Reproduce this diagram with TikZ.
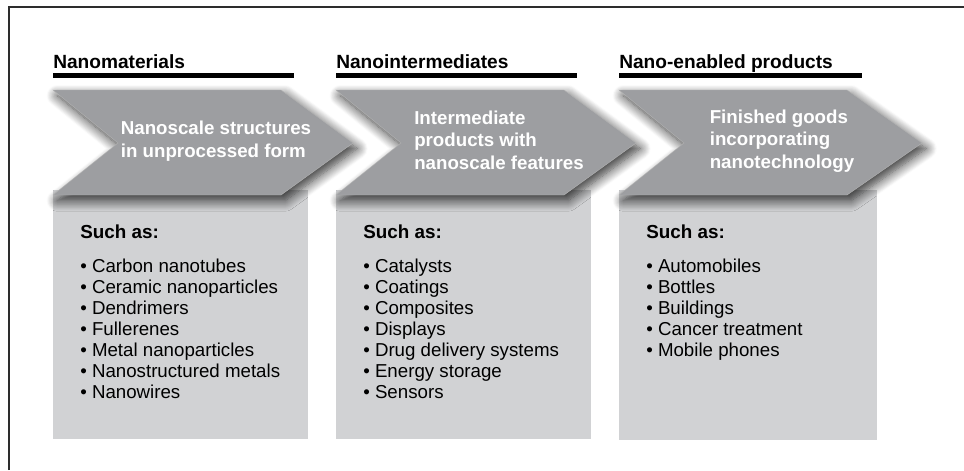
\documentclass[tikz,border=0pt]{standalone}
\usepackage{fontspec}
\setmainfont{Liberation Sans}
\usetikzlibrary{positioning, shadows.blur}
\definecolor{chevgray}{RGB}{157,158,161}
\definecolor{boxgray}{RGB}{209,210,212}
\definecolor{framegray}{RGB}{45,45,45}
\tikzset
{%
headtxt/.style={anchor=base west, inner sep=0, font=\fontsize{13.6}{16}\selectfont\bfseries},
headbar/.style={line width=3.6pt, black},
listbox/.style={fill=boxgray},
chev/.style={fill=chevgray, draw=gray!60, line width=0.3pt,
	blur shadow={shadow xshift=3pt, shadow yshift=-4pt, shadow blur radius=7.5pt, shadow blur steps=12, shadow opacity=80}},
chevtxt/.style={text=white, align=left, inner sep=0, font=\fontsize{13.3}{16}\selectfont\bfseries},
suchtxt/.style={anchor=base west, inner sep=0, font=\fontsize{13.4}{15}\selectfont\bfseries},
itemtxt/.style={anchor=north west, align=left, inner sep=0, font=\fontsize{13.3}{14.94}\selectfont},
frame/.style={draw=framegray, line width=1.4pt}
}
\begin{document}
\begin{tikzpicture}[x=0.025cm, y=-0.025cm]
		\useasboundingbox (0,0) rectangle (964,470);
		\draw[frame] (9,470) -- (9,7) -- (964,7);
		
		%Column 1
		\begin{scope}[shift={(53,0)}]
			\node[headtxt] (h1) at (0,68) {Nanomaterials};
			\draw[headbar] (0,75.5) -- (241,75.5);
			\fill[listbox] (0,190) rectangle (255,439);
			\draw[chev] (0,90) -- (228,90) -- (300,143) -- (228,195) -- (0,195) -- (65,143) -- cycle;
			\node[chevtxt] (c1) at (163,141) {Nanoscale structures\\in unprocessed form};
			\node[suchtxt] (s1) at (27,238) {Such as:};
			\node[itemtxt] (l1) at (27,258.5) {• Carbon nanotubes\\• Ceramic nanoparticles\\• Dendrimers\\• Fullerenes\\• Metal nanoparticles\\• Nanostructured metals\\• Nanowires};
		\end{scope}
		
		%Column 2
		\begin{scope}[shift={(336,0)}]
			\node[headtxt] (h2) at (0,68) {Nanointermediates};
			\draw[headbar] (0,75.5) -- (241,75.5);
			\fill[listbox] (0,190) rectangle (255,439);
			\draw[chev] (0,90) -- (228,90) -- (300,143) -- (228,195) -- (0,195) -- (65,143) -- cycle;
			\node[chevtxt] (c2) at (163,140) {Intermediate\\products with\\nanoscale features};
			\node[suchtxt] (s2) at (27,238) {Such as:};
			\node[itemtxt] (l2) at (27,258.5) {• Catalysts\\• Coatings\\• Composites\\• Displays\\• Drug delivery systems\\• Energy storage\\• Sensors};
		\end{scope}
		
		%Column 3
		\begin{scope}[shift={(619,0)}]
			\node[headtxt] (h3) at (0,68) {Nano-enabled products};
			\draw[headbar] (0,75.5) -- (243,75.5);
			\fill[listbox] (0,190) rectangle (258,440);
			\draw[chev] (0,90) -- (228,90) -- (303,143) -- (228,195) -- (0,195) -- (65,143) -- cycle;
			\node[chevtxt] (c3) at (163,141) {Finished goods\\incorporating\\nanotechnology};
			\node[suchtxt] (s3) at (27,238) {Such as:};
			\node[itemtxt] (l3) at (27,258.5) {• Automobiles\\• Bottles\\• Buildings\\• Cancer treatment\\• Mobile phones};
		\end{scope}
	\end{tikzpicture}
\end{document}
